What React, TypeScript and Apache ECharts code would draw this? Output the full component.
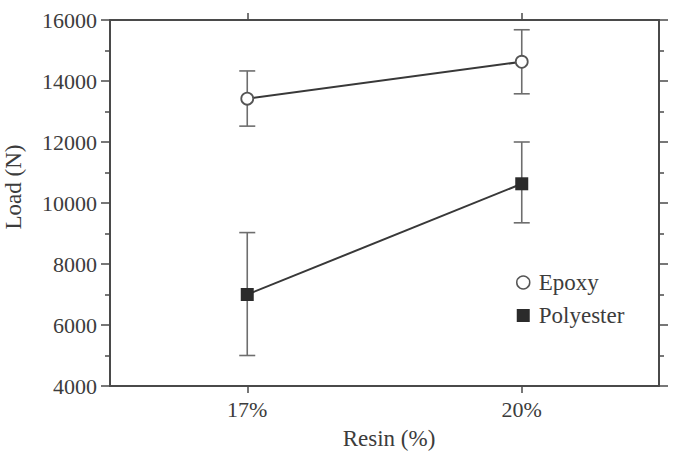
import React, { useEffect, useRef } from "react";
import * as echarts from "echarts";

// Resin content groups on the x axis
const categories = ["17%", "20%"];
// Mean failure load (N) per resin type
const epoxyLoad = [13420, 14630];
const polyesterLoad = [7000, 10630];
// Error-bar bounds (N)
const epoxyLow = [12520, 13580];
const epoxyHigh = [14330, 15680];
const polyesterLow = [5000, 9350];
const polyesterHigh = [9030, 12000];
// Load axis range and step
const loadMin = 4000;
const loadMax = 16000;
const loadStep = 2000;

const FONT = "'Liberation Serif', 'Times New Roman', serif";
const AXIS_COLOR = "#4a4a4a";
const TEXT_COLOR = "#3c3c3c";

function errorBarSeries(low: number[], high: number[], z: number) {
  return {
    type: "custom",
    z,
    silent: true,
    data: low.map((lo, i) => [i, lo, high[i]]),
    renderItem: (params: any, api: any) => {
      const x = api.value(0);
      const top = api.coord([x, api.value(2)]);
      const bottom = api.coord([x, api.value(1)]);
      const half = 8;
      const style = { stroke: "#6e6e6e", lineWidth: 1.6 };
      return {
        type: "group",
        children: [
          { type: "line", shape: { x1: top[0], y1: top[1], x2: bottom[0], y2: bottom[1] }, style },
          { type: "line", shape: { x1: top[0] - half, y1: top[1], x2: top[0] + half, y2: top[1] }, style },
          { type: "line", shape: { x1: bottom[0] - half, y1: bottom[1], x2: bottom[0] + half, y2: bottom[1] }, style },
        ],
      };
    },
  };
}

export default function App() {
  const ref = useRef<HTMLDivElement>(null);

  useEffect(() => {
    if (!ref.current) return;
    const chart = echarts.init(ref.current, null, { renderer: "svg" });

    const valueAxisBase = {
      type: "value",
      min: loadMin,
      max: loadMax,
      interval: loadStep,
      splitLine: { show: false },
      axisLine: { show: true, lineStyle: { color: AXIS_COLOR, width: 2 } },
      axisTick: { show: true, inside: false, length: 9, lineStyle: { color: AXIS_COLOR, width: 1.5 } },
      minorTick: { show: true, splitNumber: 2, length: 5, lineStyle: { color: AXIS_COLOR, width: 1.5 } },
    };

    const catAxisBase = {
      type: "category",
      data: categories,
      boundaryGap: true,
      axisLine: { show: true, onZero: false, lineStyle: { color: AXIS_COLOR, width: 2 } },
      axisTick: { show: true, alignWithLabel: true, inside: false, length: 7, lineStyle: { color: AXIS_COLOR, width: 1.5 } },
      splitLine: { show: false },
    };

    chart.setOption({
      animation: false,
      backgroundColor: "#ffffff",
      textStyle: { fontFamily: FONT },
      grid: { left: 110, right: 17, top: 20, bottom: 66 },
      xAxis: [
        {
          ...catAxisBase,
          position: "bottom",
          axisLabel: { color: TEXT_COLOR, fontSize: 22, fontFamily: FONT, margin: 12 },
        },
        {
          ...catAxisBase,
          position: "top",
          axisLabel: { show: false },
        },
      ],
      yAxis: [
        {
          ...valueAxisBase,
          position: "left",
          axisLabel: {
            color: TEXT_COLOR,
            fontSize: 22,
            fontFamily: FONT,
            margin: 13,
            formatter: (v: number) => String(v),
          },
        },
        {
          ...valueAxisBase,
          position: "right",
          axisLabel: { show: false },
        },
      ],
      legend: {
        orient: "vertical",
        left: 511,
        top: 266,
        itemWidth: 13,
        itemHeight: 13,
        itemGap: 10,
        textStyle: { color: TEXT_COLOR, fontSize: 23, fontFamily: FONT, padding: [0, 0, 0, 4] },
        data: [
          {
            name: "Epoxy",
            icon: "circle",
            itemStyle: { color: "#ffffff", borderColor: "#555555", borderWidth: 1.5 },
          },
          {
            name: "Polyester",
            icon: "rect",
            itemStyle: { color: "#2b2b2b", borderWidth: 0 },
          },
        ],
      },
      graphic: [
        {
          type: "text",
          x: 389,
          y: 438,
          style: {
            text: "Resin (%)",
            fill: TEXT_COLOR,
            font: `23px ${FONT}`,
            align: "center",
            verticalAlign: "middle",
          },
        },
        {
          type: "text",
          x: 13,
          y: 187,
          rotation: Math.PI / 2,
          style: {
            text: "Load (N)",
            fill: TEXT_COLOR,
            font: `23px ${FONT}`,
            align: "center",
            verticalAlign: "middle",
          },
        },
      ],
      series: [
        errorBarSeries(epoxyLow, epoxyHigh, 1),
        errorBarSeries(polyesterLow, polyesterHigh, 1),
        {
          name: "Epoxy",
          type: "line",
          z: 3,
          data: epoxyLoad,
          symbol: "circle",
          symbolSize: 12,
          lineStyle: { color: "#383838", width: 2 },
          itemStyle: { color: "#ffffff", borderColor: "#555555", borderWidth: 1.8 },
        },
        {
          name: "Polyester",
          type: "line",
          z: 3,
          data: polyesterLoad,
          symbol: "rect",
          symbolSize: 13,
          lineStyle: { color: "#383838", width: 2 },
          itemStyle: { color: "#2b2b2b", borderWidth: 0 },
        },
      ],
    });

    return () => chart.dispose();
  }, []);

  return (
    <div
      ref={ref}
      style={{ position: "fixed", left: 0, top: 0, width: 676, height: 452 }}
    />
  );
}
